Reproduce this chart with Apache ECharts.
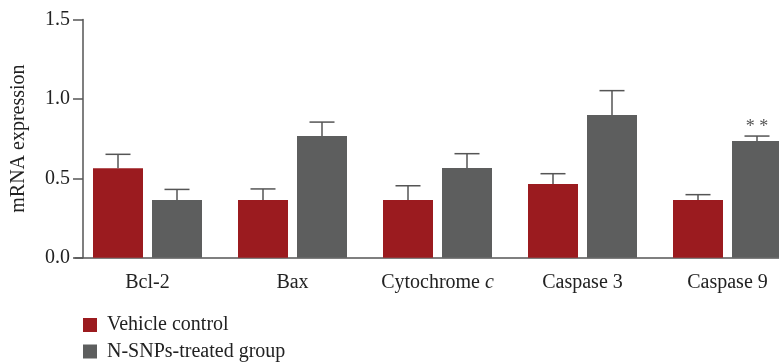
<!DOCTYPE html>
<html>
<head>
<meta charset="utf-8">
<script src="https://cdn.jsdelivr.net/npm/echarts@6/dist/echarts.min.js"></script>
<style>
  html, body { margin: 0; padding: 0; background: #fff; }
  #chart { width: 779px; height: 362px; }
</style>
</head>
<body>
<div id="chart"></div>
<script>
// Genes on the x axis
const genes = ['Bcl-2', 'Bax', 'Cytochrome c', 'Caspase 3', 'Caspase 9'];

// Mean mRNA expression and upper error (SD) per group
const vehicleMean = [0.563, 0.363, 0.363, 0.464, 0.363];
const vehicleErr  = [0.088, 0.070, 0.090, 0.065, 0.034];
const treatedMean = [0.363, 0.766, 0.565, 0.899, 0.735];
const treatedErr  = [0.067, 0.088, 0.090, 0.153, 0.031];
const treatedSig  = ['', '', '', '', '**'];

const groupNames = ['Vehicle control', 'N-SNPs-treated group'];
const yTicks = [0, 0.5, 1.0, 1.5];

const RED = '#9b1b1f';
const GRAY = '#5d5e5e';
const LINE = '#555555';
const TEXT = '#222222';
const FONT = '"Liberation Serif", "DejaVu Serif", serif';
const FS = 20;

const BAR_W = 50;
const BAR_GAP = 9;
const SHIFT = (BAR_W + BAR_GAP) / 2;

// Upper whiskers (and significance marks) drawn over each bar
function errorSeries(mean, err, sig, dir) {
  return {
    type: 'custom',
    z: 5,
    silent: true,
    data: mean.map((m, i) => [i, m, err[i]]),
    encode: { x: 0, y: 1 },
    renderItem(params, api) {
      const i = api.value(0);
      const m = api.value(1);
      const e = api.value(2);
      const base = api.coord([i, m]);
      const top = api.coord([i, m + e]);
      const x = base[0] + dir * SHIFT;
      const cap = 12.5;
      const children = [
        { type: 'line', shape: { x1: x, y1: base[1], x2: x, y2: top[1] },
          style: { stroke: LINE, lineWidth: 1.5 } },
        { type: 'line', shape: { x1: x - cap, y1: top[1], x2: x + cap, y2: top[1] },
          style: { stroke: LINE, lineWidth: 1.5 } }
      ];
      const s = sig ? sig[i] : '';
      if (s) {
        children.push({
          type: 'text',
          style: { text: s.split('').join(' '), x: x, y: top[1], align: 'center',
                   verticalAlign: 'bottom', fill: LINE, font: '18px ' + FONT }
        });
      }
      return { type: 'group', children };
    }
  };
}

// One legend row per group, stacked below the plot
function legendRow(name, top) {
  return {
    orient: 'horizontal',
    left: 83,
    top: top,
    padding: 0,
    itemWidth: 14,
    itemHeight: 14,
    icon: 'rect',
    selectedMode: false,
    textStyle: { fontFamily: FONT, fontSize: FS, color: TEXT, padding: [0, 0, 0, 5] },
    data: [name]
  };
}

const chart = echarts.init(document.getElementById('chart'), null, { renderer: 'canvas' });

chart.setOption({
  animation: false,
  backgroundColor: '#ffffff',
  textStyle: { fontFamily: FONT },
  grid: { left: 75, width: 725, top: 19.5, bottom: 104.3, outerBoundsMode: 'none' },
  legend: [legendRow(groupNames[0], 315), legendRow(groupNames[1], 341.5)],
  xAxis: {
    type: 'category',
    data: genes,
    axisLine: { lineStyle: { color: LINE, width: 1.5 } },
    axisTick: { alignWithLabel: true, length: 9, lineStyle: { color: LINE, width: 1.5 } },
    axisLabel: {
      interval: 0,
      hideOverlap: false,
      color: TEXT, fontSize: FS, fontFamily: FONT, margin: 15,
      formatter: v => v === 'Cytochrome c' ? 'Cytochrome {i|c}' : v,
      rich: { i: { fontStyle: 'italic', fontSize: FS, fontFamily: FONT, color: TEXT } }
    }
  },
  yAxis: {
    type: 'value',
    min: 0,
    max: 1.5,
    interval: 0.5,
    offset: -8,
    name: 'mRNA expression',
    nameLocation: 'middle',
    nameGap: 54,
    nameTextStyle: { color: TEXT, fontSize: FS, fontFamily: FONT },
    splitLine: { show: false },
    axisLine: { show: true, lineStyle: { color: LINE, width: 1.5 } },
    axisTick: { show: true, length: 10, lineStyle: { color: LINE, width: 1.5 } },
    axisLabel: {
      color: TEXT, fontSize: FS, fontFamily: FONT, margin: 13,
      formatter: v => yTicks.includes(v) ? v.toFixed(1) : ''
    }
  },
  series: [
    {
      name: groupNames[0],
      type: 'bar',
      barWidth: BAR_W,
      barGap: (BAR_GAP / BAR_W * 100) + '%',
      itemStyle: { color: RED },
      data: vehicleMean
    },
    {
      name: groupNames[1],
      type: 'bar',
      barWidth: BAR_W,
      itemStyle: { color: GRAY },
      data: treatedMean
    },
    errorSeries(vehicleMean, vehicleErr, null, -1),
    errorSeries(treatedMean, treatedErr, treatedSig, 1)
  ]
});
</script>
</body>
</html>
